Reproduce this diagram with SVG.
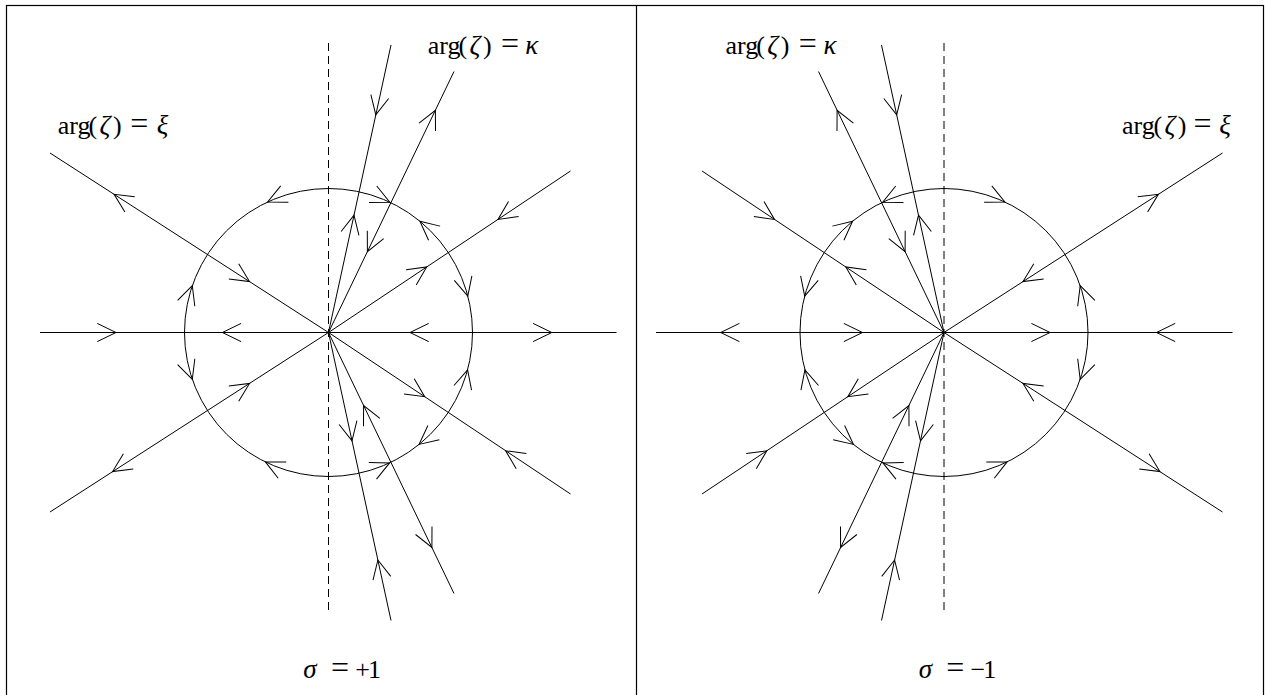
<svg xmlns="http://www.w3.org/2000/svg" xmlns:xlink="http://www.w3.org/1999/xlink" width="1265" height="695" viewBox="0 0 1265 695">
<style>
  .ln{fill:none;stroke:#000;stroke-width:1}
  .dash{fill:none;stroke:#000;stroke-width:1;stroke-dasharray:8 5}
  .frame{fill:none;stroke:#000;stroke-width:1.2}
  text{font-family:"Liberation Serif","Times New Roman",serif;font-size:26px;fill:#000}
  .it{font-style:italic;font-size:27px}
  .eq{font-size:32px}
</style>
<defs>
  <path id="ah" fill="none" stroke="#000" stroke-width="1" d="M-18.7,-9.1L0,0L-18.7,9.1"/>
</defs>
<rect width="1265" height="695" fill="#fff"/>
<g id="frame">
  <rect class="frame" x="6.5" y="5.5" width="1257" height="700"/>
  <line class="frame" x1="636.5" y1="5" x2="636.5" y2="695"/>
</g>
<g id="fig-left">
  <g id="connectors-left" class="ln">
    <line x1="40" y1="332.5" x2="616.5" y2="332.5"/>
    <line class="dash" x1="328.5" y1="43" x2="328.5" y2="613"/>
    <circle cx="328.5" cy="332.5" r="144"/>
    <path d="M328.5,332.5L50,153M328.5,332.5L570.5,171M328.5,332.5L50,512M328.5,332.5L570.5,494M328.5,332.5L391,45M328.5,332.5L391,620.5M328.5,332.5L454,71.5M328.5,332.5L454,593.5"/>
  </g>
  <g id="arrows-left">
    <use xlink:href="#ah" href="#ah" transform="translate(116,332.5)"/>
    <use xlink:href="#ah" href="#ah" transform="translate(222.4,332.5) rotate(180)"/>
    <use xlink:href="#ah" href="#ah" transform="translate(410,332.5) rotate(180)"/>
    <use xlink:href="#ah" href="#ah" transform="translate(551.8,332.5)"/>
    <use xlink:href="#ah" href="#ah" transform="translate(114.1,194.3) rotate(-147.2)"/>
    <use xlink:href="#ah" href="#ah" transform="translate(249.5,281.6) rotate(32.8)"/>
    <use xlink:href="#ah" href="#ah" transform="translate(498,219.4) rotate(146.28)"/>
    <use xlink:href="#ah" href="#ah" transform="translate(426.7,267) rotate(-33.72)"/>
    <use xlink:href="#ah" href="#ah" transform="translate(424.7,396.7) rotate(33.72)"/>
    <use xlink:href="#ah" href="#ah" transform="translate(505.7,450.8) rotate(-146.28)"/>
    <use xlink:href="#ah" href="#ah" transform="translate(249.5,383.4) rotate(-32.8)"/>
    <use xlink:href="#ah" href="#ah" transform="translate(112.6,471.6) rotate(147.2)"/>
    <use xlink:href="#ah" href="#ah" transform="translate(375.8,114.9) rotate(102.26)"/>
    <use xlink:href="#ah" href="#ah" transform="translate(354,215.2) rotate(-77.74)"/>
    <use xlink:href="#ah" href="#ah" transform="translate(352,440.8) rotate(77.74)"/>
    <use xlink:href="#ah" href="#ah" transform="translate(377.9,560) rotate(-102.26)"/>
    <use xlink:href="#ah" href="#ah" transform="translate(435.4,110.3) rotate(-64.32)"/>
    <use xlink:href="#ah" href="#ah" transform="translate(367.4,251.6) rotate(115.68)"/>
    <use xlink:href="#ah" href="#ah" transform="translate(363.6,405.5) rotate(-115.68)"/>
    <use xlink:href="#ah" href="#ah" transform="translate(431.9,547.4) rotate(64.32)"/>
    <use xlink:href="#ah" href="#ah" transform="translate(467.8,296.2) rotate(75.4)"/>
    <use xlink:href="#ah" href="#ah" transform="translate(419.9,221.3) rotate(-140.6)"/>
    <use xlink:href="#ah" href="#ah" transform="translate(389.8,202.2) rotate(25.2)"/>
    <use xlink:href="#ah" href="#ah" transform="translate(267.6,202) rotate(155)"/>
    <use xlink:href="#ah" href="#ah" transform="translate(192.3,285.6) rotate(-71)"/>
    <use xlink:href="#ah" href="#ah" transform="translate(467.6,369.8) rotate(-75)"/>
    <use xlink:href="#ah" href="#ah" transform="translate(419.1,444.4) rotate(141)"/>
    <use xlink:href="#ah" href="#ah" transform="translate(389.6,462.9) rotate(-25.1)"/>
    <use xlink:href="#ah" href="#ah" transform="translate(265.4,461.9) rotate(-154)"/>
    <use xlink:href="#ah" href="#ah" transform="translate(192.3,379.4) rotate(71)"/>
  </g>
</g>
<use id="fig-right" xlink:href="#fig-left" href="#fig-left" transform="matrix(-1 0 0 1 1272.5 0)"/>
<g id="labels" text-anchor="middle">
  <text id="lbl-xi-left" y="134"><tspan x="74.2">arg</tspan><tspan x="92.8">(</tspan><tspan x="105" class="it">ζ</tspan><tspan x="117.3">)</tspan><tspan x="139.2" class="eq">=</tspan><tspan x="162.5" class="it">ξ</tspan></text>
  <text id="lbl-kappa-left" y="54"><tspan x="444.2">arg</tspan><tspan x="462.8">(</tspan><tspan x="475" class="it">ζ</tspan><tspan x="487.3">)</tspan><tspan x="510" class="eq">=</tspan><tspan x="531.7" class="it">κ</tspan></text>
  <text id="lbl-kappa-right" y="54"><tspan x="741.9">arg</tspan><tspan x="760.5">(</tspan><tspan x="772.7" class="it">ζ</tspan><tspan x="785">)</tspan><tspan x="807.7" class="eq">=</tspan><tspan x="830" class="it">κ</tspan></text>
  <text id="lbl-xi-right" y="134"><tspan x="1138.3">arg</tspan><tspan x="1157.8">(</tspan><tspan x="1170" class="it">ζ</tspan><tspan x="1182">)</tspan><tspan x="1202.5" class="eq">=</tspan><tspan x="1225" class="it">ξ</tspan></text>
  <text id="lbl-sigma-left" y="677.7"><tspan x="310" class="it">σ</tspan><tspan x="340" class="eq">=</tspan><tspan x="362.5">+</tspan><tspan x="374.5">1</tspan></text>
  <text id="lbl-sigma-right" y="677.7"><tspan x="925.3" class="it">σ</tspan><tspan x="955.3" class="eq">=</tspan><tspan x="977.8">−</tspan><tspan x="989.8">1</tspan></text>
</g>
</svg>
